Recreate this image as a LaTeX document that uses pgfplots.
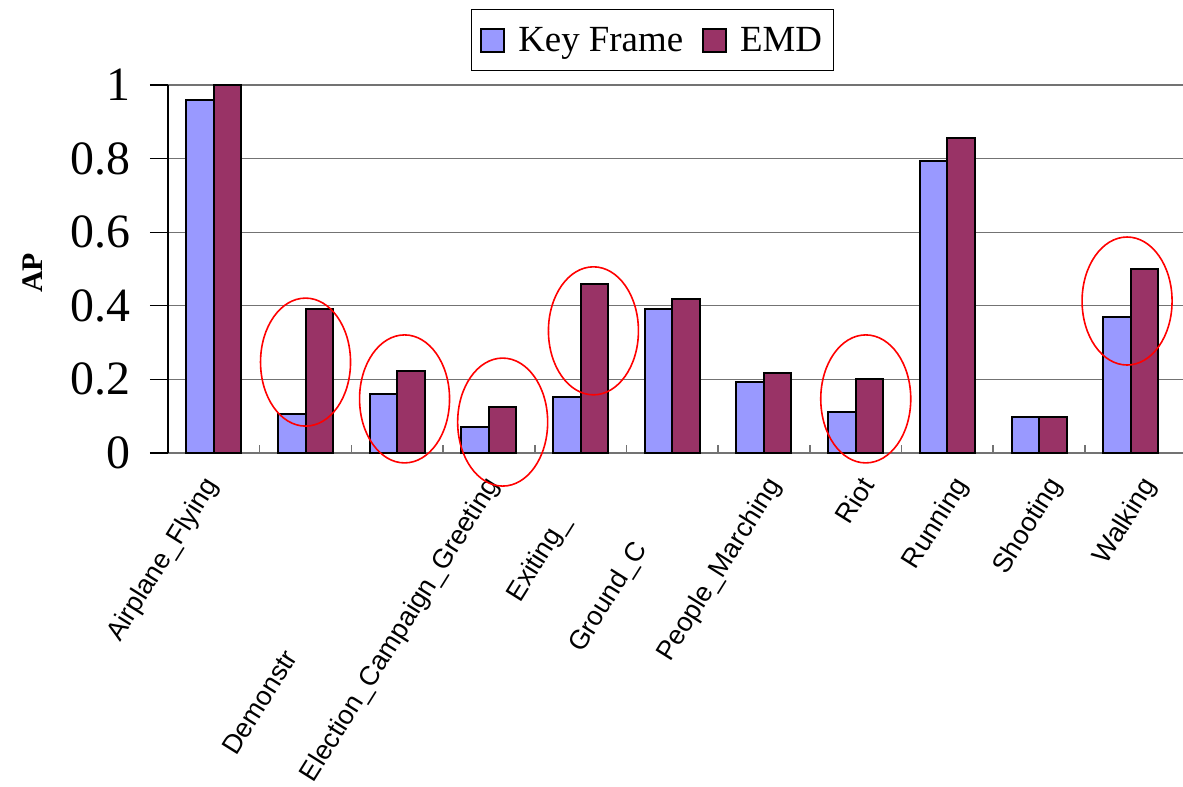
\documentclass[border=0pt]{standalone}
\usepackage{fontspec}
\setmainfont{Liberation Serif}
\newfontfamily\sansf{Liberation Sans}
\usepackage{pgfplots}
\pgfplotsset{compat=1.18}
\definecolor{kf}{HTML}{9999FF}
\definecolor{emd}{HTML}{993366}
\pgfplotsset{mylegend/.style={legend image code/.code={\draw[##1, line width=2bp] (0bp,-11.5bp) rectangle (23bp,11.5bp);}}}
\begin{document}
\begin{tikzpicture}
\begin{axis}[
  scale only axis, width=1015bp, height=368bp,
  xmin=-0.5, xmax=10.57, ymin=0, ymax=1,
  clip=false,
  axis x line*=bottom, axis y line*=left,
  x axis line style={line width=2bp, draw=black!55},
  y axis line style={line width=2bp, draw=black},
  ytick={0,0.2,0.4,0.6,0.8,1},
  yticklabels={0,0.2,0.4,0.6,0.8,1},
  ymajorgrids, grid style={draw=black!55, line width=1.2bp},
  yticklabel style={font=\fontsize{48}{48}\selectfont, xshift=-16bp},
  ytick style={draw=black, line width=1.2bp},
  major tick length=18bp, tick align=outside,
  xtick={0,1.023,2.046,3.069,4.092,5.115,6.138,7.161,8.184,9.207,10.23},
  xtick style={draw=none},
  xticklabels={Airplane\_Flying, {}, Demonstr\phantom{ation\_Or\_Protest}, Election\_Campaign\_Greeting, Exiting\_\phantom{Car}, Ground\_C\phantom{ombat}, People\_Marching, Riot, Running, Shooting, Walking},
  xticklabel style={font=\sansf\fontsize{27}{27}\selectfont, xshift=-13bp, yshift=1bp, rotate=58, anchor=north east},
  extra x ticks={0.5,1.5,2.5,3.5,4.5,5.5,6.5,7.5,8.5,9.5},
  extra x tick labels={},
  extra x tick style={tick align=inside, major tick length=8bp, grid=none, xtick style={draw=black!55, line width=1.5bp}},
  ylabel={\textbf{AP}},
  ylabel style={at={(axis description cs:-0.133,0.489)}, anchor=center, font=\fontsize{30}{30}\selectfont},
  legend style={at={(axis description cs:0.477,1.122)}, anchor=center, legend columns=2, draw=black, line width=1bp,
    font=\fontsize{37}{37}\selectfont, inner xsep=9bp, inner ysep=16bp,
    /tikz/every odd column/.append style={column sep=11bp},
    /tikz/every even column/.append style={column sep=17bp}},
]
\coordinate (o) at (axis cs:-0.5,0);
\addplot[ybar, bar width=0.30, bar shift=-0.15, fill=kf, draw=black, line width=2bp, mylegend]
  coordinates {(0,0.959) (1,0.106) (2,0.160) (3,0.071) (4,0.152) (5,0.391) (6,0.193) (7,0.111) (8,0.793) (9,0.098) (10,0.370)};
\addplot[ybar, bar width=0.30, bar shift=0.15, fill=emd, draw=black, line width=2bp, mylegend]
  coordinates {(0,1.0) (1,0.391) (2,0.223) (3,0.125) (4,0.459) (5,0.418) (6,0.217) (7,0.201) (8,0.856) (9,0.098) (10,0.500)};
\legend{Key Frame, EMD}
\draw[red, line width=1.6bp] (axis cs:1.0,0.247) ellipse [x radius=45bp, y radius=64bp];
\draw[red, line width=1.6bp] (axis cs:2.08,0.147) ellipse [x radius=45bp, y radius=64bp];
\draw[red, line width=1.6bp] (axis cs:3.15,0.084) ellipse [x radius=45bp, y radius=64bp];
\draw[red, line width=1.6bp] (axis cs:4.14,0.332) ellipse [x radius=45bp, y radius=64bp];
\draw[red, line width=1.6bp] (axis cs:7.11,0.147) ellipse [x radius=45bp, y radius=64bp];
\draw[red, line width=1.6bp] (axis cs:9.96,0.413) ellipse [x radius=45bp, y radius=64bp];
\end{axis}
\pgfresetboundingbox
\path (o) ++(-168bp,-334bp) rectangle ++(1183bp,787bp);
\end{tikzpicture}
\end{document}
